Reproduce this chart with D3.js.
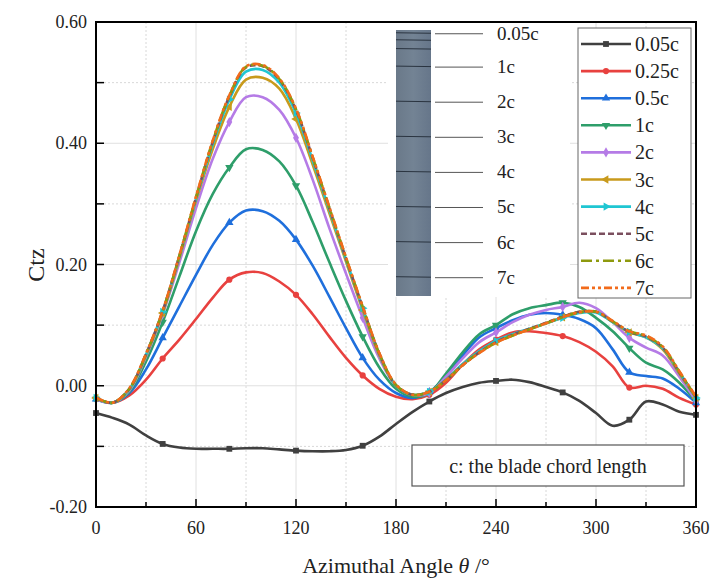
<!DOCTYPE html>
<html><head><meta charset="utf-8">
<script src="https://cdn.jsdelivr.net/npm/d3@7/dist/d3.min.js"></script>
<style>body{margin:0;background:#fff}svg{display:block}</style>
</head><body>
<svg id="chart" width="711" height="581"></svg>
<script>
const angles = [0,10,20,30,40,50,60,70,80,90,100,110,120,130,140,150,160,170,180,190,200,210,220,230,240,250,260,270,280,290,300,310,320,330,340,350,360];
const c005 = [-0.045,-0.053,-0.064,-0.082,-0.096,-0.102,-0.104,-0.104,-0.104,-0.103,-0.103,-0.105,-0.107,-0.108,-0.108,-0.106,-0.099,-0.084,-0.063,-0.043,-0.026,-0.012,-0.002,0.005,0.008,0.010,0.006,-0.002,-0.011,-0.025,-0.045,-0.066,-0.056,-0.026,-0.031,-0.043,-0.048];
const c025 = [-0.022,-0.028,-0.016,0.010,0.045,0.076,0.110,0.145,0.175,0.187,0.186,0.172,0.150,0.118,0.081,0.046,0.017,-0.005,-0.018,-0.022,-0.015,0.005,0.035,0.060,0.076,0.088,0.090,0.087,0.082,0.072,0.056,0.032,-0.003,0.000,-0.005,-0.020,-0.031];
const c05 = [-0.022,-0.028,-0.012,0.027,0.079,0.131,0.183,0.232,0.269,0.289,0.288,0.272,0.241,0.198,0.147,0.095,0.046,0.010,-0.012,-0.020,-0.010,0.015,0.050,0.080,0.095,0.108,0.117,0.120,0.117,0.110,0.095,0.060,0.022,0.016,0.012,-0.005,-0.028];
const c1 = [-0.022,-0.028,-0.010,0.040,0.105,0.180,0.255,0.316,0.360,0.390,0.389,0.370,0.330,0.270,0.204,0.140,0.081,0.030,-0.005,-0.018,-0.012,0.020,0.055,0.085,0.100,0.118,0.128,0.133,0.137,0.130,0.112,0.090,0.062,0.038,0.027,0.005,-0.026];
const c2 = [-0.022,-0.028,-0.008,0.048,0.118,0.203,0.293,0.374,0.435,0.476,0.476,0.455,0.409,0.340,0.260,0.185,0.112,0.045,0.000,-0.015,-0.012,0.015,0.045,0.072,0.088,0.105,0.117,0.125,0.130,0.137,0.128,0.105,0.079,0.063,0.050,0.015,-0.025];
const c3 = [-0.020,-0.028,-0.006,0.050,0.120,0.210,0.305,0.390,0.460,0.505,0.508,0.490,0.440,0.365,0.285,0.205,0.125,0.050,0.000,-0.015,-0.010,0.010,0.035,0.055,0.072,0.083,0.093,0.103,0.113,0.122,0.122,0.105,0.088,0.080,0.060,0.020,-0.020];
const c4 = [-0.020,-0.028,-0.006,0.051,0.122,0.212,0.308,0.398,0.472,0.518,0.521,0.500,0.450,0.372,0.290,0.208,0.128,0.052,0.000,-0.015,-0.010,0.010,0.036,0.057,0.074,0.085,0.094,0.103,0.112,0.120,0.121,0.105,0.089,0.080,0.062,0.022,-0.020];
const c5 = [-0.020,-0.028,-0.005,0.052,0.123,0.214,0.310,0.402,0.477,0.525,0.527,0.505,0.455,0.376,0.293,0.210,0.130,0.053,0.001,-0.015,-0.010,0.009,0.034,0.055,0.072,0.084,0.094,0.104,0.114,0.122,0.122,0.106,0.089,0.081,0.063,0.022,-0.019];
const c6 = [-0.020,-0.028,-0.005,0.052,0.123,0.214,0.311,0.403,0.478,0.526,0.528,0.506,0.456,0.377,0.294,0.211,0.130,0.053,0.001,-0.015,-0.010,0.009,0.034,0.055,0.071,0.083,0.093,0.103,0.113,0.121,0.122,0.106,0.090,0.082,0.064,0.023,-0.019];
const c7 = [-0.019,-0.028,-0.004,0.053,0.124,0.215,0.312,0.404,0.479,0.527,0.529,0.507,0.457,0.378,0.295,0.212,0.131,0.054,0.002,-0.015,-0.010,0.009,0.034,0.054,0.071,0.083,0.093,0.103,0.113,0.121,0.122,0.107,0.090,0.083,0.065,0.024,-0.018];
const seriesNames = ["0.05c","0.25c","0.5c","1c","2c","3c","4c","5c","6c","7c"];
const seriesValues = [c005,c025,c05,c1,c2,c3,c4,c5,c6,c7];
const markerAngles = [0,40,80,120,160,200,240,280,320,360];
const xTickValues = [0,60,120,180,240,300,360];
const yTickValues = [-0.2,0,0.2,0.4,0.6];
const insetLabels = ["0.05c","1c","2c","3c","4c","5c","6c","7c"];
const insetSpans = [0.05,1,2,3,4,5,6,7];
const bladeLineSpans = [0.05,0.25,0.5,1,2,3,4,5,6,7];
const noteText = "c: the blade chord length";

const colors = ["#404040","#e8413f","#1f6fdc","#2e9e6a","#b57be6","#c89a1c","#1fc6d2","#7b4f5e","#8e9a0e","#f26b1b"];
const dashes = [null,null,null,null,null,null,null,"6,3","11,4,3,4","8,3,3,3,3,3"];
const symbols = [d3.symbolSquare,d3.symbolCircle,d3.symbolTriangle,d3.symbolTriangle,d3.symbolDiamond,d3.symbolTriangle,d3.symbolTriangle,null,null,null];
const symRot = [0,0,0,180,0,-90,90,0,0,0];

const svg = d3.select("#chart");
const L=96,R=696,T=22,B=507;
const x = d3.scaleLinear().domain([0,360]).range([L,R]);
const y = d3.scaleLinear().domain([-0.2,0.6]).range([B,T]);
const serif = "Liberation Serif, Times New Roman, DejaVu Serif, serif";

// grid
const g = svg.append("g");
g.selectAll(".gxm").data(d3.range(30,360,60)).join("line").attr("x1",d=>x(d)).attr("x2",d=>x(d)).attr("y1",T).attr("y2",B).attr("stroke","#d8d8d8").attr("stroke-dasharray","2,2");
g.selectAll(".gx").data(xTickValues.slice(1,-1)).join("line").attr("x1",d=>x(d)).attr("x2",d=>x(d)).attr("y1",T).attr("y2",B).attr("stroke","#e0e0e0");
g.selectAll(".gym").data([-0.1,0.1,0.3,0.5]).join("line").attr("y1",d=>y(d)).attr("y2",d=>y(d)).attr("x1",L).attr("x2",R).attr("stroke","#d8d8d8").attr("stroke-dasharray","2,2");
g.selectAll(".gy").data(yTickValues.slice(1,-1)).join("line").attr("y1",d=>y(d)).attr("y2",d=>y(d)).attr("x1",L).attr("x2",R).attr("stroke","#e0e0e0");

// inset background
svg.append("rect").attr("x",388).attr("y",23).attr("width",182).attr("height",274).attr("fill","#fff");

// blade inset
const span = d3.scaleLinear().domain([0,7.55]).range([31,296]);
const grad = svg.append("defs").append("linearGradient").attr("id","bl");
grad.append("stop").attr("offset","0").attr("stop-color","#6a7989");
grad.append("stop").attr("offset","0.5").attr("stop-color","#738394");
grad.append("stop").attr("offset","1").attr("stop-color","#66768a");
svg.append("rect").attr("x",396).attr("y",span(0)-1).attr("width",35).attr("height",span(7.55)-span(0)+1).attr("fill","url(#bl)");
svg.selectAll(".bl").data(bladeLineSpans).join("line").attr("x1",396).attr("x2",431).attr("y1",d=>span(d)).attr("y2",d=>span(d)+0.5).attr("stroke","#2a3440").attr("stroke-width",1);
svg.selectAll(".ll").data(insetSpans).join("line").attr("x1",435).attr("x2",483).attr("y1",d=>span(d)+1).attr("y2",d=>span(d)+1).attr("stroke","#555").attr("stroke-width",1);
svg.selectAll(".il").data(insetLabels).join("text").attr("x",497).attr("y",(d,i)=>span(insetSpans[i])+7).text(d=>d).attr("font-family",serif).attr("font-size",19).attr("fill","#222");

// curves
const line = d3.line().x((d,i)=>x(angles[i])).y(d=>y(d)).curve(d3.curveCatmullRom.alpha(0.5));
seriesValues.forEach((vals,k)=>{
  svg.append("path").attr("d",line(vals)).attr("fill","none").attr("stroke",colors[k]).attr("stroke-width",2.6)
    .attr("stroke-dasharray",dashes[k]).attr("stroke-linejoin","round");
  if(symbols[k]){
    const pts = markerAngles.map(a=>[a, vals[angles.indexOf(a)]]);
    svg.selectAll(null).data(pts).join("path")
      .attr("d",d3.symbol().type(symbols[k]).size(k===0?34:30))
      .attr("transform",d=>`translate(${x(d[0])},${y(d[1])}) rotate(${symRot[k]})`)
      .attr("fill",colors[k]);
  }
});

// axes frame & ticks
const ax = svg.append("g");
ax.selectAll(".xt").data(d3.range(0,361,30)).join("line").attr("x1",d=>x(d)).attr("x2",d=>x(d)).attr("y1",B).attr("y2",d=>d%60===0?B-8:B-5).attr("stroke","#000").attr("stroke-width",1.5);
ax.selectAll(".yt").data(d3.range(-0.2,0.61,0.1)).join("line").attr("y1",d=>y(d)).attr("y2",d=>y(d)).attr("x1",L).attr("x2",L+8).attr("stroke","#000").attr("stroke-width",1.5);
svg.append("rect").attr("x",L).attr("y",T).attr("width",R-L).attr("height",B-T).attr("fill","none").attr("stroke","#000").attr("stroke-width",2);
ax.selectAll(".xl").data(xTickValues).join("text").attr("x",d=>x(d)).attr("y",B+27).attr("text-anchor","middle").text(d=>d).attr("font-family",serif).attr("font-size",18).attr("fill","#222");
ax.selectAll(".yl").data(yTickValues).join("text").attr("x",L-9).attr("y",d=>y(d)+6).attr("text-anchor","end").text(d=>d3.format(".2f")(d).replace("\u2212","-")).attr("font-family",serif).attr("font-size",18).attr("fill","#222");

// axis titles
const xt = svg.append("text").attr("x",396).attr("y",573).attr("text-anchor","middle").attr("font-family",serif).attr("font-size",22).attr("fill","#222");
xt.append("tspan").text("Azimuthal Angle ");
xt.append("tspan").attr("font-style","italic").text("θ");
xt.append("tspan").text(" /°");
svg.append("text").attr("transform","translate(44,265) rotate(-90)").attr("text-anchor","middle").attr("font-family",serif).attr("font-size",24).attr("fill","#222").text("Ctz");

// legend
const lg = svg.append("g");
lg.append("rect").attr("x",578).attr("y",28).attr("width",113).attr("height",270).attr("fill","#fff").attr("stroke","#666").attr("stroke-width",1);
seriesNames.forEach((n,k)=>{
  const yy = 44 + k*27.1;
  lg.append("line").attr("x1",581).attr("x2",631).attr("y1",yy).attr("y2",yy).attr("stroke",colors[k]).attr("stroke-width",2.6).attr("stroke-dasharray",dashes[k]);
  if(symbols[k]) lg.append("path").attr("d",d3.symbol().type(symbols[k]).size(k===0?34:30)).attr("transform",`translate(606,${yy}) rotate(${symRot[k]})`).attr("fill",colors[k]);
  lg.append("text").attr("x",635).attr("y",yy+7).text(n).attr("font-family",serif).attr("font-size",20).attr("fill","#222");
});

// note box
svg.append("rect").attr("x",412).attr("y",445).attr("width",272).attr("height",41).attr("fill","#fff").attr("stroke","#555").attr("stroke-width",1.2);
svg.append("text").attr("x",548).attr("y",473).attr("text-anchor","middle").text(noteText).attr("font-family",serif).attr("font-size",20).attr("fill","#222");
</script>
</body></html>
